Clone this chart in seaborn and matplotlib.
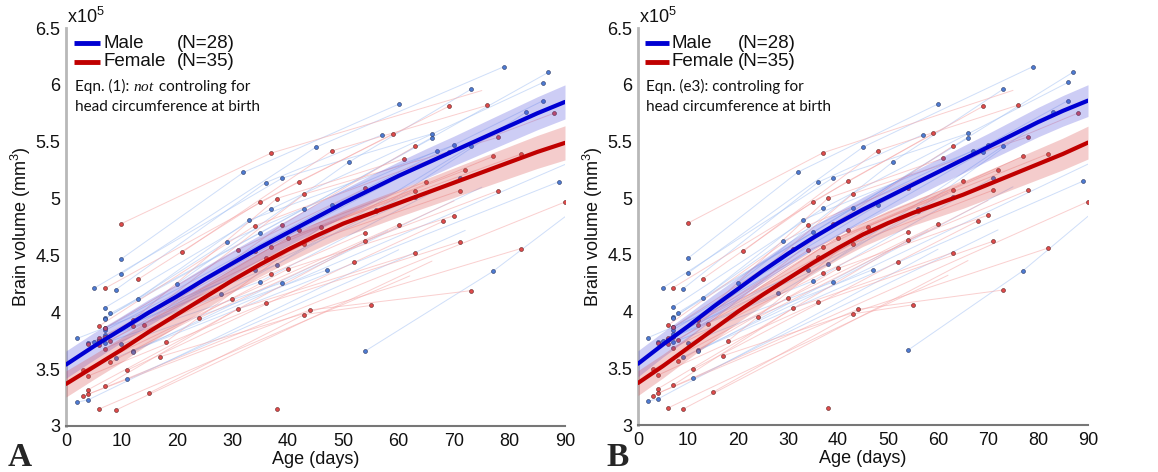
import numpy as np
import pandas as pd
import matplotlib
matplotlib.use("Agg")
import matplotlib.pyplot as plt
import seaborn as sns

# ---------------- data (volumes in units of 1e5 mm^3) ----------------
fit_age = [0, 5, 10, 15, 20, 25, 30, 35, 40, 45, 50, 55, 60, 65, 70, 75, 80, 85, 90]

male_fit_A = [3.54, 3.70, 3.85, 4.00, 4.14, 4.29, 4.43, 4.57, 4.70, 4.83, 4.96,
              5.08, 5.20, 5.31, 5.42, 5.53, 5.64, 5.75, 5.85]
female_fit_A = [3.37, 3.52, 3.67, 3.83, 3.98, 4.13, 4.28, 4.42, 4.55, 4.67, 4.78,
                4.87, 4.96, 5.05, 5.14, 5.23, 5.32, 5.41, 5.49]
male_hw_A = [0.12, 0.12, 0.115, 0.115, 0.11, 0.11, 0.11, 0.11, 0.115, 0.12, 0.12,
             0.125, 0.125, 0.13, 0.13, 0.135, 0.14, 0.145, 0.15]
female_hw_A = [0.115, 0.11, 0.11, 0.105, 0.105, 0.105, 0.105, 0.105, 0.11, 0.115,
               0.115, 0.12, 0.12, 0.125, 0.13, 0.135, 0.14, 0.145, 0.15]

male_fit_B = [3.54, 3.71, 3.87, 4.04, 4.20, 4.36, 4.51, 4.65, 4.78, 4.90, 5.01,
              5.12, 5.23, 5.34, 5.45, 5.56, 5.67, 5.77, 5.86]
female_fit_B = [3.37, 3.52, 3.68, 3.84, 4.00, 4.15, 4.29, 4.43, 4.56, 4.68, 4.78,
                4.87, 4.95, 5.03, 5.12, 5.21, 5.30, 5.39, 5.49]
male_hw_B = [0.115, 0.11, 0.11, 0.105, 0.1, 0.1, 0.1, 0.1, 0.105, 0.11, 0.11,
             0.115, 0.115, 0.12, 0.12, 0.125, 0.13, 0.135, 0.14]
female_hw_B = [0.11, 0.105, 0.1, 0.1, 0.095, 0.095, 0.095, 0.1, 0.1, 0.105, 0.11,
               0.11, 0.115, 0.12, 0.125, 0.13, 0.135, 0.14, 0.145]

# individual subjects: list of (age in days, volume) scans
male_subjects = [
    [(10, 4.47), (32, 5.23), (60, 5.83)],
    [(10, 4.34), (45, 5.45), (79, 6.16)],
    [(20, 4.25), (51, 5.32), (73, 5.96)],
    [(5, 4.21), (39, 5.18), (66, 5.57)],
    [(9, 4.20), (36, 5.14), (57, 5.56)],
    [(13, 4.12), (33, 4.81), (70, 5.47)],
    [(7, 4.04), (37, 4.91), (86, 6.02)],
    [(8, 3.99), (35, 4.70), (66, 5.53)],
    [(7, 3.95), (43, 4.91), (87, 6.11)],
    [(7, 3.94), (29, 4.62), (67, 5.42)],
    [(7, 3.86), (48, 4.94), (86, 5.86)],
    [(7, 3.84), (69, 5.41)],
    [(7, 3.80), (38, 4.42), (73, 5.46)],
    [(2, 3.77), (34, 4.37), (63, 5.01)],
    [(6, 3.76), (56, 4.90), (83, 5.76)],
    [(5, 3.74), (35, 4.27), (71, 5.18)],
    [(4, 3.73), (28, 4.16)],
    [(7, 3.73), (39, 4.26)],
    [(10, 3.72), (47, 4.37)],
    [(12, 3.66), (89, 5.15)],
    [(12, 3.65)],
    [(9, 3.60)],
    [(11, 3.41)],
    [(2, 3.21), (4, 3.23)],
    [(54, 3.66), (77, 4.36)],
]
# line continuations without a scan marker: (subject index, age, volume)
male_tails = [(20, 58, 4.72), (21, 90, 5.30), (22, 72, 4.72),
              (23, 60, 4.55), (24, 90, 4.84), (16, 62, 5.05), (17, 75, 5.10)]

female_subjects = [
    [(10, 4.78), (37, 5.40)],
    [(21, 4.53), (48, 5.42), (76, 5.82)],
    [(13, 4.29), (35, 4.97), (59, 5.57)],
    [(7, 4.21), (42, 5.15), (69, 5.81)],
    [(12, 3.93), (38, 5.00), (61, 5.35)],
    [(14, 3.89), (39, 4.77), (63, 5.46)],
    [(6, 3.88), (34, 4.76), (88, 5.75)],
    [(12, 3.88), (43, 5.04), (78, 5.54)],
    [(7, 3.86), (31, 4.55), (54, 5.09)],
    [(7, 3.78), (34, 4.54), (72, 5.25)],
    [(6, 3.77), (42, 4.72), (65, 5.15)],
    [(6, 3.75), (40, 4.65), (82, 5.39)],
    [(8, 3.75), (37, 4.57), (77, 5.37)],
    [(18, 3.74), (46, 4.75), (63, 5.07)],
    [(4, 3.72), (36, 4.48), (56, 4.89)],
    [(6, 3.71), (43, 4.60), (71, 5.07)],
    [(7, 3.68), (37, 4.34), (54, 4.70)],
    [(17, 3.61), (82, 4.56)],
    [(8, 3.56), (40, 4.38), (70, 4.85)],
    [(3, 3.49), (30, 4.12), (60, 4.77)],
    [(11, 3.49), (52, 4.44), (68, 4.80)],
    [(4, 3.44), (36, 4.08), (71, 4.62)],
    [(7, 3.35), (31, 4.03), (63, 4.52)],
    [(15, 3.29), (43, 3.98), (55, 4.06)],
    [(4, 3.28), (44, 4.02), (73, 4.19)],
    [(4, 3.32), (54, 4.63), (78, 5.07)],
    [(3, 3.26), (90, 4.97)],
    [(6, 3.15)],
    [(9, 3.14)],
    [(38, 3.15)],
    [(24, 3.95)],
]
female_tails = [(27, 62, 4.32), (28, 66, 4.45), (30, 70, 4.98), (0, 75, 5.95)]

legend_labels = ["Male", "Female"]
legend_counts = ["(N=28)", "(N=35)"]
eqn_texts = [("Eqn. (1): ", r"$\mathit{not}$", " controling for"),
             ("Eqn. (e3): controling for", "", "")]
panel_letters = ["A", "B"]
y_ticks = [3, 3.5, 4, 4.5, 5, 5.5, 6, 6.5]
y_ticklabels = ["3", "3.5", "4", "4.5", "5", "5.5", "6", "6.5"]
x_ticks = [0, 10, 20, 30, 40, 50, 60, 70, 80, 90]

# ---------------- tables ----------------
def scans_table(subjects):
    rows = [(i, a, v) for i, s in enumerate(subjects) for a, v in s]
    return pd.DataFrame(rows, columns=["subject", "age", "vol"])

def lines_table(subjects, tails):
    rows = [(i, a, v) for i, s in enumerate(subjects) for a, v in s]
    rows += [(i, a, v) for i, a, v in tails]
    return pd.DataFrame(rows, columns=["subject", "age", "vol"])

m_scans = scans_table(male_subjects)
f_scans = scans_table(female_subjects)
m_lines = lines_table(male_subjects, male_tails)
f_lines = lines_table(female_subjects, female_tails)

# ---------------- style ----------------
sns.set_theme(style="white")
plt.rcParams["font.family"] = ["Liberation Sans", "DejaVu Sans"]
plt.rcParams["mathtext.fontset"] = "custom"
plt.rcParams["mathtext.it"] = "Liberation Serif:italic"
plt.rcParams["mathtext.rm"] = "Liberation Sans"

MALE = "#0000d2"
FEMALE = "#c00000"
M_LINE = "#a8c4f4"
F_LINE = "#f6a8a8"

fig = plt.figure(figsize=(11.58, 4.72), dpi=100)
W, H = 1158, 472
axA = fig.add_axes([66 / W, 46 / H, 499 / W, 398 / H])
axB = fig.add_axes([638 / W, 47 / H, 450 / W, 397 / H])


def draw_panel(ax, mfit, ffit, mhw, fhw, eqn, letter, letter_x):
    # individual trajectories
    sns.lineplot(data=m_lines, x="age", y="vol", units="subject", estimator=None,
                 color=M_LINE, lw=0.7, alpha=0.55, ax=ax, legend=False, zorder=1)
    sns.lineplot(data=f_lines, x="age", y="vol", units="subject", estimator=None,
                 color=F_LINE, lw=0.7, alpha=0.55, ax=ax, legend=False, zorder=1)
    sns.scatterplot(data=m_scans, x="age", y="vol", color="#4d7bd3", edgecolor="#27335e",
                    s=8, linewidth=0.4, ax=ax, legend=False, zorder=2)
    sns.scatterplot(data=f_scans, x="age", y="vol", color="#df4a4a", edgecolor="#5a1f1f",
                    s=8, linewidth=0.4, ax=ax, legend=False, zorder=2)
    # confidence bands
    mfit_a, ffit_a = np.array(mfit), np.array(ffit)
    ax.fill_between(fit_age, mfit_a - np.array(mhw), mfit_a + np.array(mhw),
                    color="#4848dc", alpha=0.27, lw=0, zorder=3)
    ax.fill_between(fit_age, ffit_a - np.array(fhw), ffit_a + np.array(fhw),
                    color="#d84a4a", alpha=0.28, lw=0, zorder=3)
    sns.lineplot(x=fit_age, y=mfit, color=MALE, lw=3, ax=ax, zorder=4)
    sns.lineplot(x=fit_age, y=ffit, color=FEMALE, lw=3, ax=ax, zorder=4)

    ax.set_xlim(0, 90)
    ax.set_ylim(3, 6.5)
    ax.set_xticks(x_ticks)
    ax.set_xticklabels([str(t) for t in x_ticks])
    ax.set_yticks(y_ticks)
    ax.set_yticklabels(y_ticklabels)
    ax.tick_params(axis="both", direction="in", length=5, width=1, color="#333333",
                   labelsize=13, pad=4, labelcolor="#111111")
    ax.tick_params(axis="x", pad=5)
    for s in ["top", "right"]:
        ax.spines[s].set_visible(False)
    ax.spines["left"].set_color("#b8b8b8")
    ax.spines["left"].set_linewidth(2)
    ax.spines["bottom"].set_color("#777777")
    ax.spines["bottom"].set_linewidth(1.5)
    ax.set_xlabel("Age (days)", fontsize=13, labelpad=1, color="#111111")
    ax.set_ylabel(r"Brain volume (mm$\mathregular{^3}$)", fontsize=13, labelpad=2,
                  color="#111111")
    ax.text(0.003, 1.003, r"x10$\mathregular{^5}$", transform=ax.transAxes, fontsize=13,
            va="bottom", ha="left", color="#111111")

    # legend
    for i, (lab, cnt, col) in enumerate(zip(legend_labels, legend_counts, [MALE, FEMALE])):
        yy = 0.962 - i * 0.047
        ax.plot([0.016, 0.068], [yy, yy], transform=ax.transAxes, color=col, lw=3.5,
                solid_capstyle="butt", clip_on=False, zorder=6)
        ax.text(0.075, yy, lab, transform=ax.transAxes, fontsize=13.5, va="center",
                ha="left", color="#111111")
        ax.text(0.222, yy, cnt, transform=ax.transAxes, fontsize=13.5, va="center",
                ha="left", color="#111111")

    # equation note
    fig.canvas.draw()
    r = fig.canvas.get_renderer()
    x0 = 0.018
    y1 = 0.852
    trans = ax.transAxes
    xcur = x0
    for part in eqn:
        if not part:
            continue
        t = ax.text(xcur, y1, part, transform=trans, fontsize=11, va="center", ha="left",
                    family=["Lato", "DejaVu Sans"], color="#111111")
        bb = t.get_window_extent(r)
        inv = ax.transAxes.inverted()
        xcur = inv.transform((bb.x1, bb.y0))[0]
    ax.text(x0, y1 - 0.05, "head circumference at birth", transform=trans, fontsize=11,
            va="center", ha="left", family=["Lato", "DejaVu Sans"], color="#111111")

    fig.text(letter_x / W, 1 - 466 / H, letter, family="Liberation Serif",
             fontweight="bold", fontsize=24, va="baseline", ha="left")


draw_panel(axA, male_fit_A, female_fit_A, male_hw_A, female_hw_A, eqn_texts[0],
           panel_letters[0], 8)
draw_panel(axB, male_fit_B, female_fit_B, male_hw_B, female_hw_B, eqn_texts[1],
           panel_letters[1], 606)

fig.savefig("out.png", dpi=100)
